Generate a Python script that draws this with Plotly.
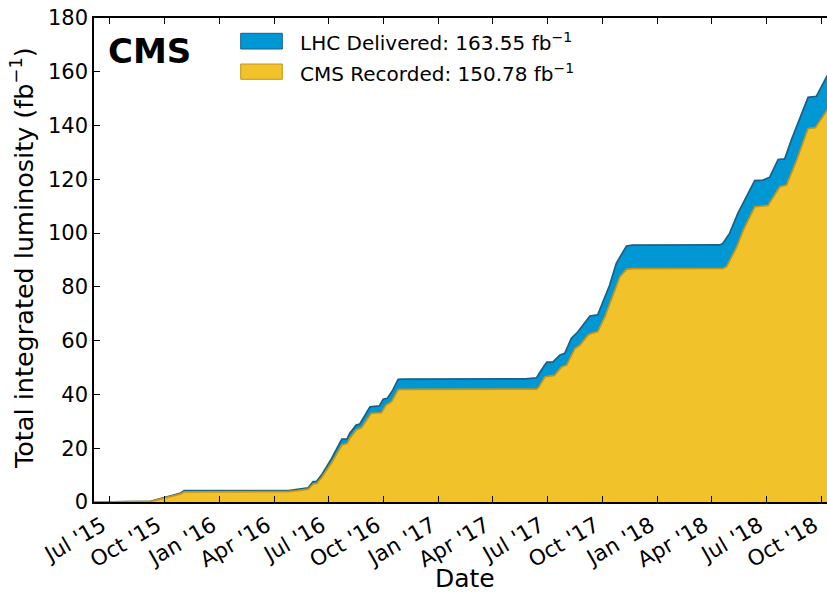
import plotly.graph_objects as go

# ---------------- data ----------------
delivered_dates = [
    "2015-06-03", "2015-08-10", "2015-09-08", "2015-09-20", "2015-09-29", "2015-10-08",
    "2015-10-15", "2015-10-27", "2015-11-03", "2016-04-25", "2016-05-10", "2016-05-28",
    "2016-06-05", "2016-06-11", "2016-06-19", "2016-06-28", "2016-07-06", "2016-07-23",
    "2016-08-01", "2016-08-05", "2016-08-16", "2016-08-22", "2016-09-08", "2016-09-24",
    "2016-09-30", "2016-10-07", "2016-10-16", "2016-10-25", "2016-11-01", "2017-05-25",
    "2017-06-13", "2017-06-21", "2017-06-30", "2017-07-10", "2017-07-22", "2017-07-30",
    "2017-08-10", "2017-08-21", "2017-09-01", "2017-09-10", "2017-09-23", "2017-10-02",
    "2017-10-13", "2017-10-24", "2017-11-02", "2017-11-10", "2017-11-20", "2018-04-15",
    "2018-04-20", "2018-05-01", "2018-05-15", "2018-05-29", "2018-06-12", "2018-06-26",
    "2018-07-07", "2018-07-21", "2018-08-01", "2018-08-12", "2018-08-26", "2018-09-09",
    "2018-09-23", "2018-10-10", "2018-10-26",
]
delivered_values = [
    0.0, 0.05, 0.25, 1.0, 1.6, 2.2,
    2.4, 3.2, 4.2, 4.25, 4.7, 5.3,
    7.6, 7.7, 10.0, 13.1, 16.2, 23.4,
    23.5, 25.5, 28.6, 29.0, 35.4, 35.8,
    38.2, 38.6, 41.6, 45.6, 45.7, 45.8,
    46.2, 49.1, 52.0, 52.0, 54.7, 55.3,
    60.9, 63.3, 66.5, 69.2, 69.6, 74.5,
    80.7, 88.8, 92.5, 95.2, 95.5, 95.6,
    96.2, 99.9, 107.4, 113.5, 119.5, 119.7,
    120.8, 127.4, 127.6, 134.6, 142.7, 150.5,
    150.9, 158.2, 163.55,
]

recorded_dates = [
    "2015-06-03", "2015-08-10", "2015-09-08", "2015-09-20", "2015-09-29", "2015-10-08",
    "2015-10-15", "2015-10-27", "2015-11-03", "2016-04-25", "2016-05-10", "2016-05-28",
    "2016-06-05", "2016-06-11", "2016-06-19", "2016-06-28", "2016-07-06", "2016-07-23",
    "2016-08-01", "2016-08-05", "2016-08-16", "2016-08-25", "2016-09-10", "2016-09-27",
    "2016-10-05", "2016-10-14", "2016-10-25", "2016-11-01", "2017-06-13", "2017-06-16",
    "2017-06-27", "2017-07-13", "2017-07-25", "2017-08-02", "2017-08-16", "2017-08-24",
    "2017-09-07", "2017-09-12", "2017-09-23", "2017-10-05", "2017-10-19", "2017-10-30",
    "2017-11-10", "2017-11-20", "2018-04-20", "2018-04-26", "2018-05-13", "2018-05-24",
    "2018-06-12", "2018-07-04", "2018-07-24", "2018-08-04", "2018-08-21", "2018-09-07",
    "2018-09-09", "2018-09-21", "2018-10-11", "2018-10-26",
]
recorded_values = [
    0.0, 0.04, 0.2, 0.9, 1.4, 2.0,
    2.2, 2.9, 3.8, 3.85, 4.2, 4.8,
    6.7, 6.9, 9.0, 11.9, 14.6, 21.2,
    21.8, 23.6, 26.8, 27.7, 33.0, 33.2,
    36.1, 37.3, 41.8, 41.9, 42.0, 42.5,
    46.6, 47.1, 50.3, 50.9, 57.1, 58.3,
    62.1, 62.7, 63.3, 68.9, 77.0, 83.8,
    86.5, 86.8, 86.9, 87.5, 94.9, 101.2,
    109.8, 110.3, 117.3, 117.9, 127.2, 138.3,
    138.9, 139.2, 146.0, 150.78,
]

tick_dates = [
    "2015-07-01", "2015-10-01", "2016-01-01", "2016-04-01", "2016-07-01", "2016-10-01",
    "2017-01-01", "2017-04-01", "2017-07-01", "2017-10-01", "2018-01-01", "2018-04-01",
    "2018-07-01", "2018-10-01",
]
tick_labels = [
    "Jul '15", "Oct '15", "Jan '16", "Apr '16", "Jul '16", "Oct '16",
    "Jan '17", "Apr '17", "Jul '17", "Oct '17", "Jan '18", "Apr '18",
    "Jul '18", "Oct '18",
]
y_ticks = [0, 20, 40, 60, 80, 100, 120, 140, 160, 180]

delivered_label = "LHC Delivered: 163.55 fb<sup>−1</sup>"
recorded_label = "CMS Recorded: 150.78 fb<sup>−1</sup>"

# ---------------- style ----------------
BLUE = "rgb(0,152,212)"
BLUE_EDGE = "rgb(24,96,136)"
YELLOW = "rgb(241,194,41)"
YELLOW_EDGE = "rgb(196,148,24)"
FONT = "DejaVu Sans"

W, H = 827, 592
L, T, B = 94, 18, 502
PW, PH = W - L, B - T


def px_x(p):
    return (p - L) / PW


def px_y(p):
    return (B - p) / PH


fig = go.Figure()
fig.add_trace(go.Scatter(
    x=delivered_dates, y=delivered_values, mode="lines", fill="tozeroy",
    fillcolor=BLUE, line=dict(color=BLUE_EDGE, width=1.7), showlegend=False,
    hoverinfo="skip",
))
fig.add_trace(go.Scatter(
    x=recorded_dates, y=recorded_values, mode="lines", fill="tozeroy",
    fillcolor=YELLOW, line=dict(color=YELLOW_EDGE, width=1.7), showlegend=False,
    hoverinfo="skip",
))

shapes = [
    dict(type="rect", xref="paper", yref="paper",
         x0=px_x(240.7), x1=px_x(282.3), y0=px_y(49), y1=px_y(33.3),
         fillcolor=BLUE, line=dict(color=BLUE_EDGE, width=1)),
    dict(type="rect", xref="paper", yref="paper",
         x0=px_x(240.7), x1=px_x(282.3), y0=px_y(79.3), y1=px_y(64),
         fillcolor=YELLOW, line=dict(color=YELLOW_EDGE, width=1)),
]

annotations = [
    dict(text="<b>CMS</b>", xref="paper", yref="paper", x=px_x(106), y=px_y(51),
         xanchor="left", yanchor="middle", showarrow=False,
         font=dict(family=FONT, size=34, color="black")),
    dict(text=delivered_label, xref="paper", yref="paper", x=px_x(298), y=px_y(42),
         xanchor="left", yanchor="middle", showarrow=False,
         font=dict(family=FONT, size=20, color="black")),
    dict(text=recorded_label, xref="paper", yref="paper", x=px_x(298), y=px_y(73),
         xanchor="left", yanchor="middle", showarrow=False,
         font=dict(family=FONT, size=20, color="black")),
    dict(text="Total integrated luminosity (fb<sup>−1</sup>)", xref="paper", yref="paper",
         x=px_x(22), y=px_y(258), xanchor="center", yanchor="middle", textangle=-90,
         showarrow=False, font=dict(family=FONT, size=25.5, color="black")),
    dict(text="Date", xref="paper", yref="paper", x=px_x(465), y=px_y(578),
         xanchor="center", yanchor="middle", showarrow=False,
         font=dict(family=FONT, size=25, color="black")),
]

fig.update_layout(
    width=W, height=H,
    margin=dict(l=L, r=0, t=T, b=H - B, pad=0),
    paper_bgcolor="white", plot_bgcolor="white",
    font=dict(family=FONT, size=22, color="black"),
    shapes=shapes, annotations=annotations,
    showlegend=False, hovermode=False,
)
fig.update_xaxes(
    type="date", range=["2015-06-05 12:00", "2018-10-10 14:00"],
    tickmode="array", tickvals=tick_dates, ticktext=tick_labels, tickangle=-30,
    ticks="inside", ticklen=6, tickwidth=1, tickcolor="black",
    showline=True, linecolor="black", linewidth=1.5, mirror="ticks",
    showgrid=False, zeroline=False, automargin=False,
    ticklabeloverflow="allow", ticklabelshift=-7, ticklabelstandoff=1,
    tickfont=dict(family=FONT, size=21.5, color="black"),
)
fig.update_yaxes(
    range=[0, 180], tickmode="array", tickvals=y_ticks,
    ticks="inside", ticklen=6, tickwidth=1, tickcolor="black",
    showline=True, linecolor="black", linewidth=1.5, mirror=False,
    showgrid=False, zeroline=False, automargin=False,
    tickfont=dict(family=FONT, size=21, color="black"),
)

fig.write_html(
    "out.html",
    config={"displayModeBar": False},
    post_script="document.body.style.margin='0';document.body.style.overflow='hidden';",
)
